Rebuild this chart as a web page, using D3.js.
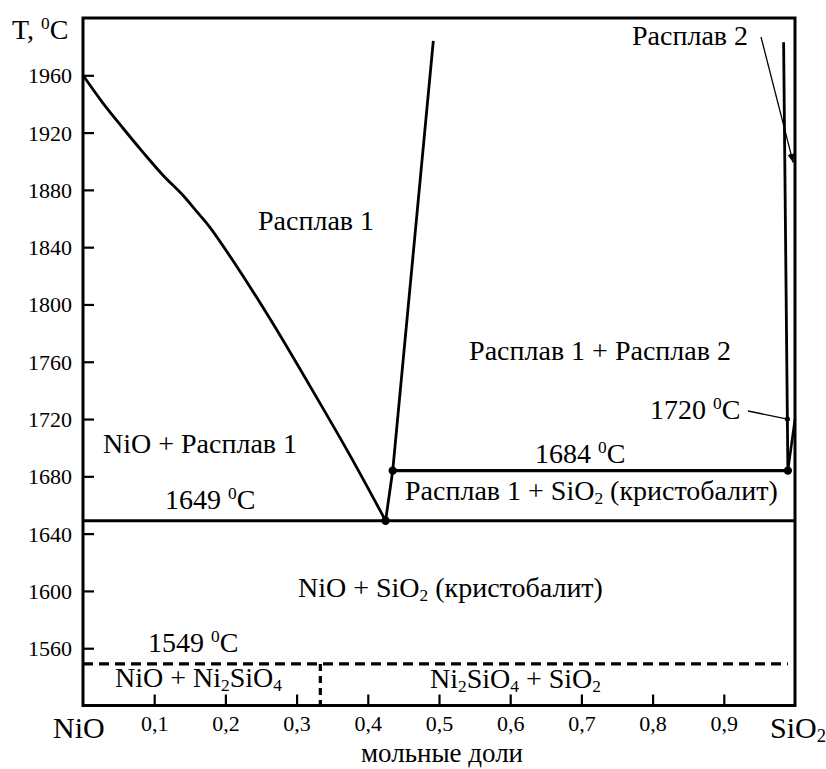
<!DOCTYPE html>
<html>
<head>
<meta charset="utf-8">
<script src="https://cdn.jsdelivr.net/npm/d3@7"></script>
<style>
  html, body { margin: 0; padding: 0; background: #fff; }
  svg { display: block; }
</style>
</head>
<body>
<svg id="chart" width="826" height="769"></svg>
<script>
// Phase diagram NiO – SiO2 (mole fraction SiO2 vs temperature)

const xTicks = [0.1, 0.2, 0.3, 0.4, 0.5, 0.6, 0.7, 0.8, 0.9];
const xTickLabels = ["0,1", "0,2", "0,3", "0,4", "0,5", "0,6", "0,7", "0,8", "0,9"];
const yTicks = [1560, 1600, 1640, 1680, 1720, 1760, 1800, 1840, 1880, 1920, 1960];

// NiO liquidus: from NiO melting point down to the eutectic
const liquidusX = [0, 0.028, 0.056, 0.084, 0.112, 0.140, 0.158, 0.178, 0.210, 0.262, 0.318, 0.374, 0.425];
const liquidusT = [1960, 1940.6, 1923.2, 1906.4, 1890.4, 1876.4, 1865.9, 1854, 1831, 1790.5, 1743.7, 1695.5, 1649];

// Melt-1 boundary of the miscibility gap
const gapLeftX = [0.425, 0.435, 0.492];
const gapLeftT = [1649, 1684, 1984];

// Melt-2 boundary of the miscibility gap
const gapRightX = [0.984, 0.990];
const gapRightT = [1983, 1684];

// Cristobalite liquidus
const silicaX = [0.990, 1.0];
const silicaT = [1684, 1720];

// Invariant temperatures
const eutecticT = 1649;
const monotecticT = 1684;
const silicaMeltT = 1720;
const silicateT = 1549;
const ni2sio4X = 1 / 3;

// Invariant points
const pointX = [0.425, 0.435, 0.990];
const pointT = [1649, 1684, 1684];

const FONT = "'Liberation Serif', 'Times New Roman', Times, 'DejaVu Serif', serif";

const svg = d3.select("#chart").style("font-family", FONT);
const mLeft = 83, mRight = 795, mTop = 18, mBottom = 705.5;

const x = d3.scaleLinear().domain([0, 1]).range([mLeft, mRight]);
const y = d3.scaleLinear().domain([1520, 2000]).range([mBottom, mTop]);

const zip = (xs, ts) => xs.map((v, i) => [v, ts[i]]);
const line = d3.line().x(d => x(d[0])).y(d => y(d[1]));

// Axes with inward ticks
const xAxis = d3.axisBottom(x).tickValues(xTicks)
  .tickFormat((d, i) => xTickLabels[i]).tickSize(-11).tickPadding(10);
const gx = svg.append("g").attr("transform", `translate(0,${mBottom})`).call(xAxis);
gx.attr("font-family", null).attr("font-size", null);
gx.select(".domain").remove();
gx.selectAll(".tick line").attr("stroke", "#000").attr("stroke-width", 2.2);
gx.selectAll(".tick text").style("font-family", FONT).style("font-size", "22px")
  .attr("dy", "0.71em");

const yAxis = d3.axisLeft(y).tickValues(yTicks).tickFormat(d3.format("d")).tickSize(-11).tickPadding(11);
const gy = svg.append("g").attr("transform", `translate(${mLeft},0)`).call(yAxis);
gy.attr("font-family", null).attr("font-size", null);
gy.select(".domain").remove();
gy.selectAll(".tick line").attr("stroke", "#000").attr("stroke-width", 2.2);
gy.selectAll(".tick text").style("font-family", FONT).style("font-size", "22px")
  .attr("dy", "0.34em");

// Frame
svg.append("rect").attr("x", mLeft).attr("y", mTop)
  .attr("width", mRight - mLeft).attr("height", mBottom - mTop)
  .attr("fill", "none").attr("stroke", "#000").attr("stroke-width", 3);

const g = svg.append("g").attr("fill", "none").attr("stroke", "#000");

// Liquidus of NiO
g.append("path").datum(zip(liquidusX, liquidusT))
  .attr("d", d3.line().x(d => x(d[0])).y(d => y(d[1])).curve(d3.curveCatmullRom))
  .attr("stroke-width", 2.8);

// Eutectic horizontal
g.append("path").datum([[0, eutecticT], [1, eutecticT]]).attr("d", line).attr("stroke-width", 2.8);
// Monotectic horizontal
g.append("path").datum([[pointX[1], monotecticT], [pointX[2], monotecticT]]).attr("d", line).attr("stroke-width", 3.2);

g.append("path").datum(zip(gapLeftX, gapLeftT)).attr("d", line).attr("stroke-width", 2.8);
g.append("path").datum(zip(gapRightX, gapRightT)).attr("d", line).attr("stroke-width", 2.8);
g.append("path").datum(zip(silicaX, silicaT)).attr("d", line).attr("stroke-width", 2.6);

// Subsolidus: Ni2SiO4 decomposition
g.append("path").datum([[0, silicateT], [0.99, silicateT]]).attr("d", line)
  .attr("stroke-width", 3.2).attr("stroke-dasharray", "10,6");
g.append("path").datum([[ni2sio4X, silicateT], [ni2sio4X, 1520]]).attr("d", line)
  .attr("stroke-width", 3.2).attr("stroke-dasharray", "7,5");

// Invariant points
svg.selectAll("circle.pt").data(zip(pointX, pointT)).enter().append("circle")
  .attr("class", "pt").attr("cx", d => x(d[0])).attr("cy", d => y(d[1])).attr("r", 4.2).attr("fill", "#000");

// Pointer arrows
const defs = svg.append("defs");
defs.append("marker").attr("id", "arr").attr("viewBox", "0 0 10 10").attr("refX", 10).attr("refY", 5)
  .attr("markerWidth", 9).attr("markerHeight", 9).attr("markerUnits", "userSpaceOnUse").attr("orient", "auto")
  .append("path").attr("d", "M0,1 L10,5 L0,9 Z").attr("fill", "#000");

// to the melt-2 boundary
svg.append("line").attr("x1", 761).attr("y1", 37).attr("x2", x(0.9975)).attr("y2", y(1899))
  .attr("stroke", "#000").attr("stroke-width", 1.3).attr("marker-end", "url(#arr)");
// to the 1720 °C point
const p1720x = x(0.984 + (0.990 - 0.984) * (1983 - silicaMeltT) / (1983 - 1684));
svg.append("line").attr("x1", 748).attr("y1", 411).attr("x2", p1720x).attr("y2", y(silicaMeltT))
  .attr("stroke", "#000").attr("stroke-width", 1.3);
svg.append("circle").attr("cx", p1720x).attr("cy", y(silicaMeltT)).attr("r", 2.6).attr("fill", "#000");

// Text helper: parts are [string, kind] with kind "", "sup", "sub" or "back" (baseline shift)
function label(px, py, parts, size, anchor) {
  const t = svg.append("text").attr("x", px).attr("y", py)
    .style("font-family", FONT).style("font-size", size + "px")
    .attr("text-anchor", anchor || "start").attr("fill", "#000");
  parts.forEach(p => {
    const s = t.append("tspan").text(p[0]);
    if (p[1] === "sup") s.style("font-size", (size * 0.62) + "px").attr("dy", -size * 0.36);
    else if (p[1] === "sub") s.style("font-size", (size * 0.62) + "px").attr("dy", size * 0.14);
    else if (p[1] === "back") s.attr("dy", p[2]);
  });
  return t;
}

const fs = 28;
// axis titles
label(12, 39, [["T, "], ["0", "sup"], ["C", "back", fs * 0.36]], fs);
label(53, 738, [["NiO"]], 30);
label(770, 738, [["SiO"], ["2", "sub"]], 30);
label(442, 762, [["мольные доли"]], 27, "middle");

// phase fields
label(258, 230, [["Расплав 1"]], fs);
label(632, 45, [["Расплав 2"]], fs);
label(600, 360, [["Расплав 1 + Расплав 2"]], fs, "middle");
label(103, 453, [["NiO + Расплав 1"]], fs);
label(405, 500, [["Расплав 1 + SiO"], ["2", "sub"], [" (кристобалит)", "back", -fs * 0.14]], fs);
label(298, 597, [["NiO + SiO"], ["2", "sub"], [" (кристобалит)", "back", -fs * 0.14]], fs);
label(115, 687, [["NiO + Ni"], ["2", "sub"], ["SiO", "back", -fs * 0.14], ["4", "sub"]], fs);
label(430, 688, [["Ni"], ["2", "sub"], ["SiO", "back", -fs * 0.14], ["4", "sub"], [" + SiO", "back", -fs * 0.14], ["2", "sub"]], fs);

// invariant temperatures
label(650, 419, [[silicaMeltT + " "], ["0", "sup"], ["C", "back", fs * 0.36]], fs);
label(535, 463, [[monotecticT + " "], ["0", "sup"], ["C", "back", fs * 0.36]], fs);
label(165, 509, [[eutecticT + " "], ["0", "sup"], ["C", "back", fs * 0.36]], fs);
label(148, 652, [[silicateT + " "], ["0", "sup"], ["C", "back", fs * 0.36]], fs);
</script>
</body>
</html>
